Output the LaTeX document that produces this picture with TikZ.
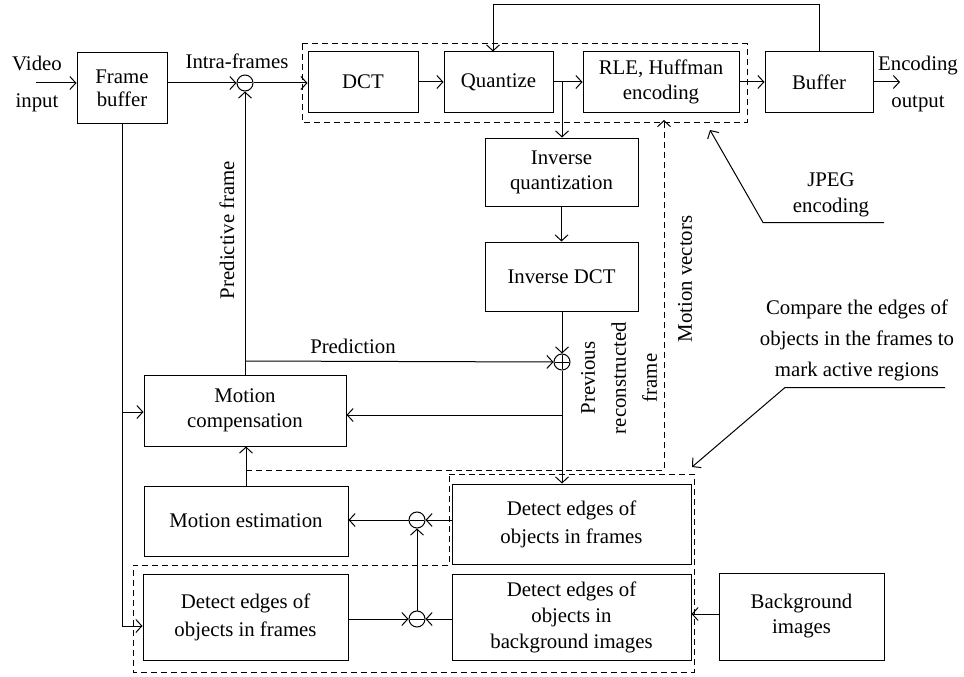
\documentclass[tikz,border=0pt]{standalone}
\usepackage{fontspec}
\setmainfont{Liberation Serif}
\usetikzlibrary{arrows.meta}
\begin{document}
\begin{tikzpicture}[x=1pt,y=-1pt, line width=1pt,
  every node/.style={font=\fontsize{20.8}{25}\selectfont},
  box/.style={draw, align=center, inner sep=0pt},
  arr/.style={-{Straight Barb[length=6pt,width=13pt]}},
  grp/.style={dash pattern=on 6pt off 4pt},
  sumc/.style={draw, circle, minimum size=16pt, inner sep=0pt},
  lbl/.style={align=center, inner sep=0pt}
]
\useasboundingbox (0,0) rectangle (964,677);

% boxes
\node[box, minimum width=90pt, minimum height=70pt, font=\fontsize{20.8}{23}\selectfont] (fb) at (122,88) {Frame\\buffer};
\node[box, minimum width=110pt, minimum height=60pt] (dct) at (363,82) {DCT};
\node[box, minimum width=109pt, minimum height=60pt] (quant) at (498.5,82) {Quantize};
\node[box, minimum width=156pt, minimum height=60pt] (rle) at (661,82) {RLE, Huffman\\encoding};
\node[box, minimum width=108pt, minimum height=60pt] (buf) at (819,82) {Buffer};
\node[box, minimum width=153pt, minimum height=68pt] (iq) at (561.5,172) {Inverse\\quantization};
\node[box, minimum width=153pt, minimum height=69pt] (idct) at (561.5,276.5) {Inverse DCT};
\node[box, minimum width=202pt, minimum height=71pt] (mc) at (245,410.5) {Motion\\compensation};
\node[box, minimum width=204pt, minimum height=70pt] (me) at (246,521) {Motion estimation};
\node[box, minimum width=205pt, minimum height=86pt, font=\fontsize{20.8}{28}\selectfont] (det1) at (245.5,617) {Detect edges of\\objects in frames};
\node[box, minimum width=239pt, minimum height=80pt, font=\fontsize{20.8}{28}\selectfont] (det2) at (571.5,524) {Detect edges of\\objects in frames};
\node[box, minimum width=239pt, minimum height=86pt, font=\fontsize{20.8}{26}\selectfont] (detbg) at (571.5,617) {Detect edges of\\objects in\\background images};
\node[box, minimum width=165pt, minimum height=87pt] (bg) at (801.5,616.5) {Background\\images};

% summing junctions
\node[sumc] (m1) at (245,83) {};
\node[sumc] (pl) at (562,362) {};
\node[sumc] (m2) at (417,520) {};
\node[sumc] (m3) at (417,619) {};
\foreach \s in {m1,pl,m2,m3} \draw ([xshift=1.5pt]\s.west) -- ([xshift=-1.5pt]\s.east);
\draw ([yshift=-1.5pt]pl.north) -- ([yshift=1.5pt]pl.south);

% group outlines
\draw[grp] (302,44) rectangle (747,122);
\draw[grp] (449,474) -- (694,474) -- (694,672) -- (133,672) -- (133,565) -- (449,565) -- cycle;

% labels
\node[lbl, font=\fontsize{20.8}{37}\selectfont] (vid) at (37,84) {Video\\input};
\node[lbl] (intra) at (237,61) {Intra-frames};
\node[lbl, font=\fontsize{20.8}{37}\selectfont] (encout) at (918,84) {Encoding\\output};
\node[lbl, font=\fontsize{20.8}{26}\selectfont] (jpeg) at (831,195) {JPEG\\encoding};
\node[lbl, font=\fontsize{20.8}{31}\selectfont] (cmp) at (857,340) {Compare the edges of\\objects in the frames to\\mark active regions};
\node[lbl, rotate=90] (predf) at (227,230) {Predictive frame};
\node[lbl] (predn) at (353,346) {Prediction};
\node[lbl, rotate=90, font=\fontsize{20.8}{31}\selectfont] (prev) at (619,378) {Previous\\reconstructed\\frame};
\node[lbl, rotate=90] (mvl) at (685,279) {Motion vectors};

% coordinates
\coordinate (vin) at (36,83);
\coordinate (eout) at (900,82);
\coordinate (fbk) at (493,5);
\coordinate (qbr) at (562,82);
\coordinate (prd) at (245,361);
\coordinate (rcb) at (562,415);
\coordinate (fbm) at (122,412);
\coordinate (fbl) at (122,626);
\coordinate (mv2) at (664,470);
\coordinate (mv3) at (664,120);
\coordinate (ju) at (763,222.5);
\coordinate (jr) at (884,222.5);
\coordinate (jt) at (710,130);
\coordinate (cu) at (785,387.5);
\coordinate (cr) at (945,387.5);
\coordinate (ct) at (692,467);

% connectors
\draw[arr] (vin) -- (vin -| fb.west);
\draw[arr] (m1.west -| fb.east) -- (m1.west);
\draw[arr] (m1.east) -- (m1.east -| dct.west);
\draw[arr] (dct) -- (quant);
\draw[arr] (quant) -- (rle);
\draw[arr] (rle) -- (buf);
\draw[arr] (buf.east) -- (eout);
\draw[arr] (buf.north) |- (fbk) -- (fbk |- quant.north);
\draw[arr] (qbr) -- (qbr |- iq.north);
\draw[arr] (iq) -- (iq |- idct.north);
\draw[arr] (pl |- idct.south) -- (pl.north);
\draw[arr] (prd) -- (pl.west);
\draw[arr] (mc.north) -- (m1.south);
\draw[arr] (pl.south) -- (pl.south |- det2.north);
\draw[arr] (rcb) -- (rcb -| mc.east);
\draw[arr] (fb.south) -- (fbl) -- (fbl -| det1.west);
\draw[arr] (fbm) -- (fbm -| mc.west);
\draw[arr] (me.north) -- (me.north |- mc.south);
\draw[grp, arr] (me.north |- mv2) -- (mv2) -- (mv3);
\draw[arr] (m2.east -| det2.west) -- (m2.east);
\draw[arr] (m2.west) -- (m2.west -| me.east);
\draw[arr] (m3.west -| det1.east) -- (m3.west);
\draw[arr] (m3.east -| detbg.west) -- (m3.east);
\draw[arr] (m3.north) -- (m2.south);
\draw[arr] (bg.west |- 0,614) -- (detbg.east |- 0,614);
\draw[arr] (jr) -- (ju) -- (jt);
\draw[arr] (cr) -- (cu) -- (ct);
\end{tikzpicture}
\end{document}
